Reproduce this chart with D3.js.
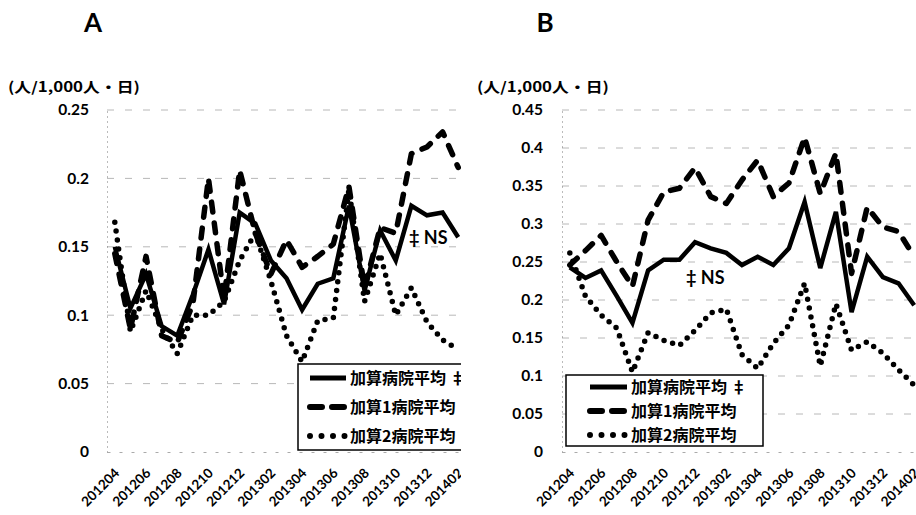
<!DOCTYPE html>
<html>
<head>
<meta charset="utf-8">
<script src="https://cdn.jsdelivr.net/npm/d3@7"></script>
<style>
  html, body { margin: 0; padding: 0; background: #fff; }
  svg { display: block; }
  .num { font-family: Lato, "Open Sans", "Liberation Sans", sans-serif; font-weight: 700; }
  .cjk { font-family: "Noto Sans CJK JP", "Noto Sans CJK SC", sans-serif; font-weight: 700; }
</style>
</head>
<body>
<svg id="chart" width="916" height="515"></svg>
<script>
// Monthly series, April 2012 – February 2014
const months = ["201204","201205","201206","201207","201208","201209","201210","201211","201212",
                "201301","201302","201303","201304","201305","201306","201307","201308","201309",
                "201310","201311","201312","201401","201402"];
const monthTicks = months.filter((m, i) => i % 2 === 0);

const seriesNames = ["加算病院平均 ‡", "加算1病院平均", "加算2病院平均"];

// Panel A
const yTicksA = [0, 0.05, 0.1, 0.15, 0.2, 0.25];
const allA  = [0.150, 0.105, 0.130, 0.092, 0.085, 0.115, 0.148, 0.108, 0.175, 0.167, 0.140, 0.127,
               0.104, 0.123, 0.127, 0.180, 0.118, 0.162, 0.140, 0.180, 0.173, 0.175, 0.157];
const add1A = [0.145, 0.090, 0.143, 0.085, 0.080, 0.108, 0.200, 0.112, 0.206, 0.160, 0.130, 0.155,
               0.135, 0.143, 0.152, 0.194, 0.120, 0.164, 0.160, 0.218, 0.223, 0.234, 0.208];
const add2A = [0.168, 0.088, 0.118, 0.090, 0.072, 0.100, 0.100, 0.110, 0.140, 0.160, 0.125, 0.085,
               0.066, 0.096, 0.098, 0.192, 0.110, 0.145, 0.100, 0.120, 0.095, 0.082, 0.075];

// Panel B
const yTicksB = [0, 0.05, 0.1, 0.15, 0.2, 0.25, 0.3, 0.35, 0.4, 0.45];
const allB  = [0.243, 0.229, 0.239, 0.205, 0.170, 0.239, 0.253, 0.253, 0.276, 0.268, 0.262, 0.246,
               0.257, 0.246, 0.268, 0.329, 0.242, 0.316, 0.184, 0.257, 0.230, 0.222, 0.193];
const add1B = [0.246, 0.265, 0.285, 0.250, 0.218, 0.305, 0.342, 0.347, 0.374, 0.336, 0.327, 0.358,
               0.384, 0.336, 0.354, 0.414, 0.340, 0.393, 0.235, 0.322, 0.296, 0.290, 0.257];
const add2B = [0.262, 0.205, 0.180, 0.163, 0.105, 0.157, 0.147, 0.140, 0.160, 0.183, 0.188, 0.128,
               0.110, 0.143, 0.167, 0.222, 0.113, 0.195, 0.134, 0.145, 0.130, 0.108, 0.088];

const svg = d3.select("#chart");
svg.append("rect").attr("width", 916).attr("height", 515).attr("fill", "#fff");

const lineStyles = [
  { width: 4.5, dash: null, cap: "butt" },      // 加算病院平均
  { width: 5.5, dash: "10,11", cap: "round" },  // 加算1病院平均
  { width: 5.5, dash: "0,9", cap: "round" }     // 加算2病院平均
];

const tickFmt = d => d === 0 ? "0" : String(+d.toFixed(2));

function drawPanel(cfg) {
  const g = svg.append("g");
  const clipId = "clip-" + cfg.key;
  svg.append("clipPath").attr("id", clipId)
    .append("rect").attr("x", cfg.clip[0]).attr("y", 0)
    .attr("width", cfg.clip[1] - cfg.clip[0]).attr("height", 515);
  const body = g.append("g").attr("clip-path", `url(#${clipId})`);

  const x = d3.scalePoint().domain(months).range(cfg.xRange).padding(0.5);
  const y = d3.scaleLinear().domain([0, cfg.yMax]).range([452, 110]);

  // panel letter
  g.append("text").attr("class", "num").attr("x", cfg.titleX).attr("y", 32)
    .attr("text-anchor", "middle").attr("font-size", 26).text(cfg.key);

  // unit label
  g.append("text").attr("class", "cjk").attr("x", cfg.unitX).attr("y", 92)
    .attr("font-size", 14).attr("textLength", 132).attr("lengthAdjust", "spacingAndGlyphs")
    .text("(人/1,000人・日)");

  // horizontal grid
  body.append("g").selectAll("line").data(cfg.yTicks.slice(1)).join("line")
    .attr("x1", cfg.xRange[0]).attr("x2", cfg.xRange[1])
    .attr("y1", d => y(d)).attr("y2", d => y(d))
    .attr("stroke", "#8a8a8a").attr("stroke-width", 1)
    .attr("stroke-dasharray", "7,11").attr("opacity", 0.6);

  // y axis
  const yAxis = g.append("g").attr("transform", `translate(${cfg.xRange[0]},0)`)
    .call(d3.axisLeft(y).tickValues(cfg.yTicks).tickSize(0).tickPadding(cfg.yPad).tickFormat(tickFmt));
  yAxis.select(".domain").attr("stroke", "#777").attr("stroke-dasharray", "1,4");
  yAxis.selectAll("text").attr("class", "num").attr("font-size", 15.5).attr("fill", "#000");

  // x axis
  const xAxis = body.append("g").attr("transform", "translate(0,452)")
    .call(d3.axisBottom(x).tickValues(monthTicks).tickSize(0));
  xAxis.select(".domain").attr("stroke", "#aaa").attr("stroke-dasharray", "3,9");
  xAxis.selectAll("text").attr("class", "num").attr("font-size", 13.5).attr("fill", "#000")
    .attr("font-weight", 900)
    .attr("text-anchor", "end").attr("dy", null).attr("y", 0)
    .attr("transform", "translate(5,22) rotate(-45)");

  // series lines
  const line = d3.line().x((d, i) => x(months[i])).y(d => y(d));
  const order = [2, 1, 0];
  order.forEach(k => {
    const s = lineStyles[k];
    body.append("path").datum(cfg.series[k])
      .attr("d", line).attr("fill", "none").attr("stroke", "#000")
      .attr("stroke-width", s.width).attr("stroke-linecap", s.cap)
      .attr("stroke-linejoin", k === 0 ? "miter" : "round")
      .attr("stroke-dasharray", s.dash);
  });

  // significance note
  body.append("text").attr("class", "num").attr("x", cfg.nsPos[0]).attr("y", cfg.nsPos[1])
    .attr("font-size", 18).attr("font-weight", 400).text("‡ NS");

  // legend
  const L = cfg.legend;
  const lg = body.append("g");
  lg.append("rect").attr("x", L.x).attr("y", L.y).attr("width", L.w).attr("height", L.h)
    .attr("fill", "#fff").attr("stroke", "#000").attr("stroke-width", 1.5);
  seriesNames.forEach((name, k) => {
    const s = lineStyles[k];
    const cy = L.rows[k];
    lg.append("line").attr("x1", L.sx[0]).attr("x2", L.sx[1]).attr("y1", cy).attr("y2", cy)
      .attr("stroke", "#000").attr("stroke-width", s.width + 0.5)
      .attr("stroke-linecap", s.cap)
      .attr("stroke-dasharray", k === 1 ? "12,10" : (k === 2 ? "0,11.5" : null));
    lg.append("text").attr("class", "cjk").attr("x", L.tx).attr("y", cy + 6)
      .attr("font-size", 16).attr("font-weight", 900).text(name);
  });
}

drawPanel({
  key: "A", titleX: 93, unitX: 8, yMax: 0.25, yTicks: yTicksA, yPad: 18,
  xRange: [107, 466], clip: [0, 461],
  series: [allA, add1A, add2A],
  nsPos: [409, 244],
  legend: { x: 298, y: 364, w: 190, h: 86, rows: [378, 407, 436], sx: [310, 346], tx: 350 }
});

drawPanel({
  key: "B", titleX: 545, unitX: 477, yMax: 0.45, yTicks: yTicksB, yPad: 19,
  xRange: [562, 922], clip: [461, 916],
  series: [allB, add1B, add2B],
  nsPos: [686, 284],
  legend: { x: 566, y: 375, w: 197, h: 71, rows: [387, 411, 435], sx: [590, 627], tx: 631 }
});
</script>
</body>
</html>
